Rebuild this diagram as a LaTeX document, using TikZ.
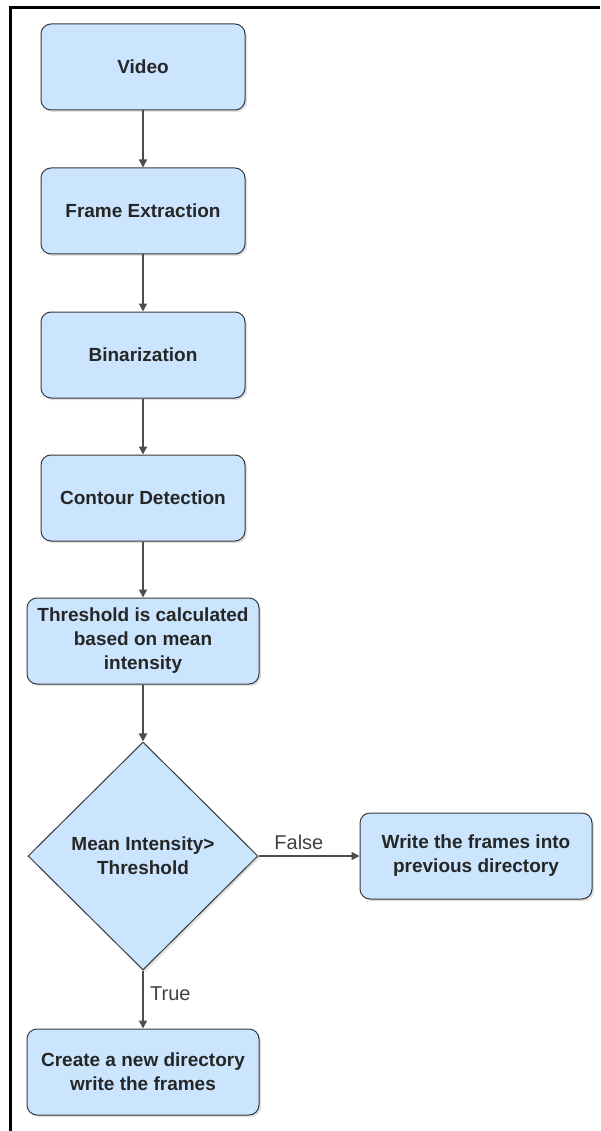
\documentclass[tikz,border=0pt]{standalone}
\usepackage{fontspec}
\setmainfont{Liberation Sans}
\usetikzlibrary{shapes.geometric,arrows.meta,shadows}
\definecolor{boxfill}{HTML}{CCE5FF}
\definecolor{boxline}{HTML}{36393D}
\definecolor{edgeline}{HTML}{4D4D4D}

\begin{document}
\begin{tikzpicture}[x=1pt,y=-1pt,>={Triangle[length=8pt,width=8pt]},
  stepbox/.style={draw=boxline,line width=1pt,fill=boxfill,rounded corners=10pt,
    minimum width=204pt,minimum height=86pt,align=center,font=\fontsize{19}{24}\selectfont\bfseries,
    text=black!85,drop shadow={shadow xshift=2pt,shadow yshift=-2pt,opacity=0.25}},
  widebox/.style={stepbox,minimum width=232pt},
  decision/.style={diamond,draw=boxline,line width=1pt,fill=boxfill,inner sep=0pt,
    minimum width=230pt,minimum height=228pt,align=center,font=\fontsize{19}{24}\selectfont\bfseries,
    text=black!85,drop shadow={shadow xshift=2pt,shadow yshift=-2pt,opacity=0.25}},
  flow/.style={->,draw=edgeline,line width=1.6pt},
  edgelabel/.style={font=\fontsize{20}{24}\selectfont,text=black!75}]
  \useasboundingbox (0,0) rectangle (600,1131);
  % --- outer frame (top and left edge only) ---
  \draw[line width=3pt] (10,1131) -- (10,8) -- (600,8);
  % --- main column ---
  \node[stepbox] (video)   at (143,67)  {Video};
  \node[stepbox] (extract) at (143,211) {Frame Extraction};
  \node[stepbox] (binar)   at (143,355) {Binarization};
  \node[stepbox] (contour) at (143,498) {Contour Detection};
  \node[widebox] (thresh)  at (143,641) {Threshold is calculated\\based on mean\\intensity};
  \node[decision] (check)  at (143,856) {Mean Intensity>\\Threshold};
  % --- outcomes ---
  \node[widebox] (prevdir) at (476,856)  {Write the frames into\\previous directory};
  \node[widebox] (newdir)  at (143,1072) {Create a new directory\\write the frames};
  % --- connectors ---
  \draw[flow] (video) -- (extract);
  \draw[flow] (extract) -- (binar);
  \draw[flow] (binar) -- (contour);
  \draw[flow] (contour) -- (thresh);
  \draw[flow] (thresh) -- (check);
  \draw[flow] (check.east) -- node[edgelabel,above=2pt,pos=0.4] {False} (prevdir.west);
  \draw[flow] (check.south) -- node[edgelabel,right=3pt,pos=0.4] {True} (newdir.north);
\end{tikzpicture}
\end{document}
